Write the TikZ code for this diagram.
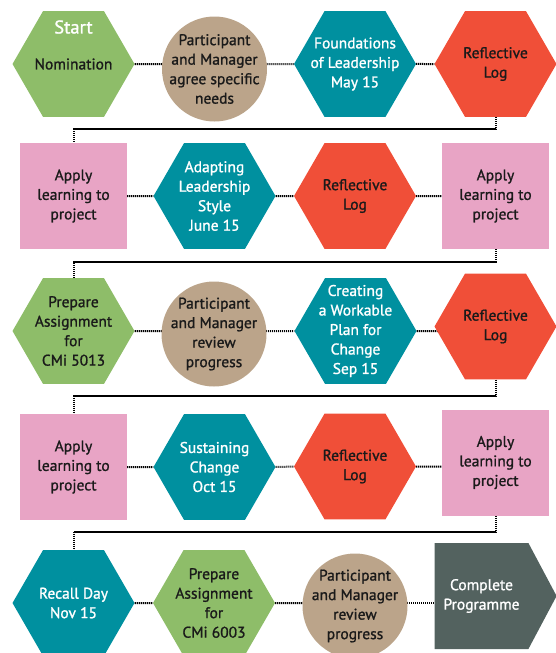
\documentclass[tikz,border=0pt]{standalone}
\usepackage{fontspec}
\setmainfont{PT Sans}[RawFeature={embolden=1.2}]
\usetikzlibrary{shapes.geometric,shapes.symbols,backgrounds}
\definecolor{cGreen}{HTML}{8EBD69}
\definecolor{cTan}{HTML}{BBA48A}
\definecolor{cTeal}{HTML}{00909F}
\definecolor{cRed}{HTML}{F04F38}
\definecolor{cPink}{HTML}{E8A4C5}
\definecolor{cSlate}{HTML}{53625F}
\definecolor{cInk}{HTML}{1A1A1A}
\begin{document}
\begin{tikzpicture}[x=1pt, y=-1pt,
  txt/.style={font=\fontsize{15.5}{19.5}\selectfont, align=center, text=cInk},
  hexa/.style={txt, regular polygon, regular polygon sides=6, minimum size=122pt, inner sep=-10pt},
  prep/.style={hexa, fill=cGreen},
  sess/.style={hexa, fill=cTeal, text=white},
  refl/.style={hexa, fill=cRed},
  meet/.style={txt, circle, fill=cTan, minimum size=105pt, inner sep=-10pt},
  task/.style={txt, rectangle, fill=cPink, minimum width=107pt, minimum height=106pt},
  link/.style={line width=2pt, dash pattern=on 1.1pt off 0.9pt}]

\useasboundingbox (0,0) rectangle (555,653);

% ---------- Row 1 ----------
\node[prep] (nom) at (73.5,64) {Nomination};
\node[font=\fontsize{18.5}{20}\selectfont, text=white] (start) at (73.5,27) {Start};
\node[meet] (agree) at (214.5,69) {Participant\\and Manager\\agree specific\\needs};
\node[sess] (found) at (355,64) {Foundations\\of Leadership\\May 15};
\node[refl] (log1) at (495.5,64) {Reflective\\Log};

% ---------- Row 2 ----------
\node[task] (app1) at (73.5,196) {Apply\\learning to\\project};
\node[sess] (adapt) at (214.5,196) {Adapting\\Leadership\\Style\\June 15};
\node[refl] (log2) at (355,196) {Reflective\\Log};
\node[task] (app2) at (495.5,196) {Apply\\learning to\\project};

% ---------- Row 3 ----------
\node[prep] (cmi1) at (73.5,331) {Prepare\\Assignment\\for\\CMi 5013};
\node[meet] (rev1) at (214,334) {Participant\\and Manager\\review\\progress};
\node[sess] (plan) at (355.5,331) {Creating\\a Workable\\Plan for\\Change\\Sep 15};
\node[refl] (log3) at (495.5,326.5) {Reflective\\Log};

% ---------- Row 4 ----------
\node[task] (app3) at (73.5,467) {Apply\\learning to\\project};
\node[sess] (sust) at (214.5,467) {Sustaining\\Change\\Oct 15};
\node[refl] (log4) at (355,466.5) {Reflective\\Log};
\node[task] (app4) at (495.5,462.5) {Apply\\learning to\\project};

% ---------- Row 5 ----------
\node[sess] (recall) at (73.5,603) {Recall Day\\Nov 15};
\node[prep] (cmi2) at (214,603) {Prepare\\Assignment\\for\\CMi 6003};
\node[meet] (rev2) at (355,606) {Participant\\and Manager\\review\\progress};
\node[txt, signal, signal to=east, signal pointer angle=124, fill=cSlate, text=white,
  minimum width=122pt, minimum height=106pt, inner sep=0pt] (done) at (481.5,596) {Complete\\Programme};

% Dotted links
\begin{scope}[on background layer]
  \draw[link] (nom) -- (nom -| agree);
  \draw[link] (agree -| nom) ++(141,-5) -- (found);
  \draw[link] (found) -- (log1);
  \draw[link] (log1.south) -- ++(0,12) -| (app1.north);

  \draw[link] (app1) -- (adapt);
  \draw[link] (adapt) -- (log2);
  \draw[link] (log2) -- (app2);
  \draw[link] (app2.south) -- ++(0,13) -| (cmi1.north);

  \draw[link] (cmi1) -- (cmi1 -| rev1);
  \draw[link] (cmi1 -| rev1) -- (plan);
  \draw[link] (plan) -- (plan -| log3);
  \draw[link] (log3.south) -- ++(0,16) -| (app3.north);

  \draw[link] (app3) -- (sust);
  \draw[link] (sust) -- (log4);
  \draw[link] (log4) -- (log4 -| app4);
  \draw[link] (app4.south) -- ++(0,16) -| (recall.north);

  \draw[link] (recall) -- (cmi2);
  \draw[link] (cmi2) -- (cmi2 -| rev2);
  \draw[link] (cmi2 -| rev2) -- (cmi2 -| done);
\end{scope}

\end{tikzpicture}
\end{document}
